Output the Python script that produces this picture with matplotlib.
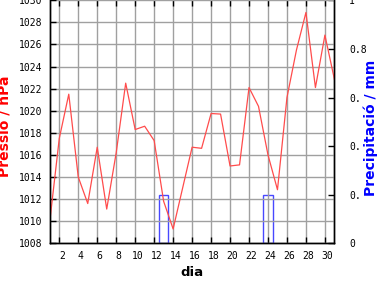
import matplotlib
matplotlib.use('Agg')
from matplotlib import pyplot as plt
from matplotlib.transforms import ScaledTranslation

# daily values
dies = list(range(1, 32))
pressio = [1010.0, 1017.5, 1021.5, 1014.0, 1011.6, 1016.7, 1011.1, 1016.2, 1022.5, 1018.3,
           1018.6, 1017.3, 1011.8, 1009.3, 1013.0, 1016.7, 1016.6, 1019.75, 1019.7, 1015.0,
           1015.1, 1022.1, 1020.4, 1016.0, 1012.85, 1021.2, 1025.5, 1028.9, 1022.1, 1026.85,
           1022.85]
precip = [0, 0, 0, 0, 0, 0, 0, 0, 0, 0,
          0, 0, 0.2, 0, 0, 0, 0, 0, 0, 0,
          0, 0, 0, 0.2, 0, 0, 0, 0, 0, 0,
          0]

x_ticks = list(range(2, 31, 2))
p_ticks = list(range(1008, 1031, 2))
r_ticks = [0, 0.2, 0.4, 0.6, 0.8, 1]
r_labels = ['0', '0.', '0.', '0.', '0.8', '1']

fig = plt.figure(figsize=(3.84, 2.88), dpi=100)
ax = fig.add_axes([49.8/384, 1 - 243.3/288, (334.4 - 49.8)/384, (243.3 - 0.3)/288])
ax2 = ax.twinx()

# precipitation bars (outlines only)
d_p = [d for d, p in zip(dies, precip) if p > 0]
v_p = [p for p in precip if p > 0]
ax2.bar(d_p, v_p, width=1.0, fill=False, edgecolor='#4848ff', linewidth=1.0)
ax2.set_ylim(0, 1)
ax2.set_yticks(r_ticks)
ax2.set_yticklabels(r_labels)

ax.plot(dies, pressio, color='#ff4c4c', linewidth=0.9)
ax.set_xlim(1, 31)
ax.set_ylim(1008, 1030)
ax.set_xticks(x_ticks)
ax.set_yticks(p_ticks)
ax.grid(True, color='#a0a0a0', linewidth=1.0)

ax.set_zorder(ax2.get_zorder() + 1)
ax.patch.set_visible(False)

for a in (ax, ax2):
    for sp in a.spines.values():
        sp.set_linewidth(1.0)
    a.spines['top'].set_visible(False)
    for lab in a.get_xticklabels() + a.get_yticklabels():
        lab.set_fontfamily('DejaVu Sans Mono')
        lab.set_fontsize(7)

ax.tick_params(axis='x', direction='in', length=4, width=1, top=True, pad=5.5)
ax.tick_params(axis='y', direction='in', length=4, width=1, pad=5.5)
ax2.tick_params(axis='y', direction='in', length=4, width=1, pad=10.5)
ax2.tick_params(axis='x', top=False, bottom=False)

# x tick labels sit a little right of their ticks in the reference
shift = ScaledTranslation(2.5/100, 0, fig.dpi_scale_trans)
for lab in ax.get_xticklabels():
    lab.set_transform(lab.get_transform() + shift)

ax.set_xlabel('dia', fontsize=9.5, fontweight='bold', labelpad=4)
fig.text(6/384, 1 - 126/288, 'Pressió / hPa', color='red', rotation=90,
         ha='center', va='center', fontsize=10, fontweight='bold')
fig.text(371/384, 1 - 128/288, 'Precipitació / mm', color='blue', rotation=90,
         ha='center', va='center', fontsize=10, fontweight='bold')

fig.savefig('out.png', dpi=100)
